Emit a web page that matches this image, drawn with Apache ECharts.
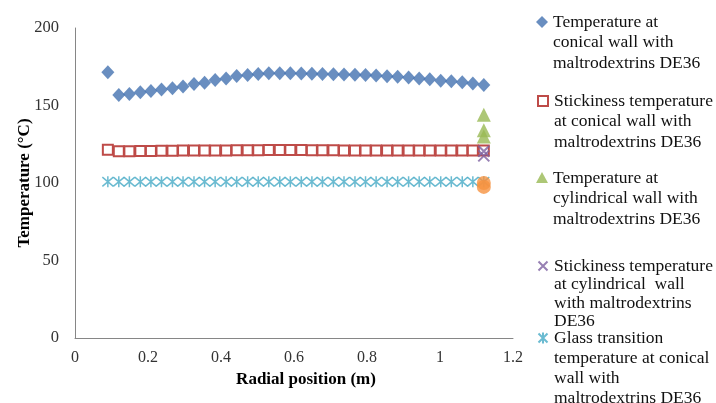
<!DOCTYPE html>
<html>
<head>
<meta charset="utf-8">
<script src="https://cdn.jsdelivr.net/npm/echarts@6/dist/echarts.min.js"></script>
<style>
  html, body { margin: 0; padding: 0; background: #ffffff; }
  #chart { width: 716px; height: 403px; }
</style>
</head>
<body>
<div id="chart"></div>
<script>
// ---- Data ----
const radialPositions = [0.090, 0.120, 0.149, 0.179, 0.208, 0.237, 0.267, 0.296, 0.326, 0.355,
  0.384, 0.414, 0.443, 0.473, 0.502, 0.531, 0.561, 0.590, 0.620, 0.649,
  0.678, 0.708, 0.737, 0.767, 0.796, 0.825, 0.855, 0.884, 0.914, 0.943,
  0.972, 1.002, 1.031, 1.061, 1.090, 1.120];

const tempConical = [171.4, 156.8, 157.5, 158.5, 159.3, 160.4, 161.2, 162.2, 163.9, 164.7,
  166.5, 167.5, 169.0, 169.7, 170.3, 170.8, 170.8, 170.8, 170.7, 170.5,
  170.4, 170.2, 170.0, 169.8, 169.7, 169.3, 168.9, 168.6, 168.0, 167.4,
  166.9, 166.0, 165.6, 165.0, 164.2, 163.2];

const stickConical = [121.5, 120.5, 120.5, 120.7, 120.7, 120.8, 120.8, 120.9, 121.0, 121.0,
  121.0, 121.0, 121.2, 121.2, 121.2, 121.3, 121.3, 121.3, 121.3, 121.2,
  121.2, 121.2, 121.0, 121.0, 121.0, 121.0, 121.0, 121.0, 121.0, 121.0,
  121.0, 121.0, 121.0, 121.0, 121.0, 121.0];

const glassConical = [100.8, 100.8, 100.8, 100.8, 100.8, 100.8, 100.8, 100.8, 100.8, 100.8,
  100.8, 100.8, 100.8, 100.8, 100.8, 100.8, 100.8, 100.8, 100.8, 100.8,
  100.8, 100.8, 100.8, 100.8, 100.8, 100.8, 100.8, 100.8, 100.8, 100.8,
  100.8, 100.8, 100.8, 100.8, 100.8, 100.8];

const cylPositions = [1.12, 1.12, 1.12];
const tempCylindrical = [144.0, 134.0, 130.0];
const stickCylPositions = [1.12, 1.12];
const stickCylindrical = [120.5, 117.5];
const glassCylPositions = [1.12, 1.12];
const glassCylindrical = [100.0, 97.5];

const seriesNames = [
  'Temperature at conical wall with maltrodextrins DE36',
  'Stickiness temperature at conical wall with maltrodextrins DE36',
  'Temperature at cylindrical wall with maltrodextrins DE36',
  'Stickiness temperature at cylindrical wall with maltrodextrins DE36',
  'Glass transition temperature at conical wall with maltrodextrins DE36',
  'Glass transition temperature at cylindrical wall with maltrodextrins DE36'
];
const legendLines = [
  ['Temperature at', 'conical wall with', 'maltrodextrins DE36'],
  ['Stickiness temperature', 'at conical wall with', 'maltrodextrins DE36'],
  ['Temperature at', 'cylindrical wall with', 'maltrodextrins DE36'],
  ['Stickiness temperature', 'at cylindrical  wall', 'with maltrodextrins', 'DE36'],
  ['Glass transition', 'temperature at conical', 'wall with', 'maltrodextrins DE36']
];
const xTicks = { min: 0, max: 1.2, interval: 0.2 };
const yTicks = { min: 0, max: 200, interval: 50 };

// ---- Styling ----
const serif = '"Liberation Serif", "Times New Roman", serif';
const colors = ['#4472b0', '#be4b48', '#98b954', '#7d60a0', '#46aac5', '#f69240'];
const xPath = 'path://M0,0 L10,10 M10,0 L0,10';
const starPath = 'path://M0,0 L10,10 M10,0 L0,10 M5,-1 L5,11';

function pairs(xs, ys) { return xs.map((x, i) => [x, ys[i]]); }

const legendLineHeights = [20.5, 20.5, 20.5, 18.5, 20];
const legendFirstLineY = [22, 100, 178, 265, 337];
const IW = 12;

// legend icon shapes, drawn in the top line box of a tall (n-line) icon area
function iconShape(kind, c) {
  switch (kind) {
    case 'diamond': return `M6,${c - 6} L12,${c} L6,${c + 6} L0,${c} Z`;
    case 'square': return `M1,${c - 5} L11,${c - 5} L11,${c + 5} L1,${c + 5} Z`;
    case 'triangle': return `M6,${c - 6} L12,${c + 5} L0,${c + 5} Z`;
    case 'x': return `M1.5,${c - 4.5} L10.5,${c + 4.5} M10.5,${c - 4.5} L1.5,${c + 4.5}`;
    case 'star': return `M1.5,${c - 4.5} L10.5,${c + 4.5} M10.5,${c - 4.5} L1.5,${c + 4.5} M6,${c - 5.5} L6,${c + 5.5}`;
  }
}
const legendKinds = ['diamond', 'square', 'triangle', 'x', 'star'];

const legends = legendLines.map((lines, i) => {
  const n = lines.length;
  const LH = legendLineHeights[i];
  const H = n * LH;
  const c = LH / 2;
  const path = 'path://M0,0 L0,0 M' + IW + ',' + H + ' L' + IW + ',' + H + ' ' + iconShape(legendKinds[i], c);
  return {
    data: [{ name: seriesNames[i], icon: path }],
    orient: 'vertical',
    left: 536,
    top: legendFirstLineY[i] - LH / 2,
    padding: 0,
    itemWidth: IW,
    itemHeight: H,
    symbolKeepAspect: false,
    selectedMode: false,
    formatter: () => lines.join('\n'),
    textStyle: {
      fontFamily: serif,
      fontSize: 17.5,
      color: '#111111',
      lineHeight: LH
    }
  };
});

const chart = echarts.init(document.getElementById('chart'), null, { renderer: 'canvas' });

const option = {
  animation: false,
  backgroundColor: '#ffffff',
  grid: { left: 75, top: 28, width: 438, height: 310 },
  legend: legends,
  xAxis: {
    type: 'value',
    min: xTicks.min, max: xTicks.max, interval: xTicks.interval,
    name: 'Radial position (m)',
    nameLocation: 'middle',
    nameGap: 33,
    nameMoveOverlap: false,
    nameTextStyle: { fontFamily: serif, fontSize: 17, fontWeight: 'bold', color: '#000', padding: [0, 0, 0, 24] },
    axisLine: { show: true, lineStyle: { color: '#868686', width: 1 } },
    axisTick: { show: false },
    splitLine: { show: false },
    axisLabel: { fontFamily: serif, fontSize: 16, color: '#333', margin: 12,
      formatter: v => String(Math.round(v * 10) / 10) }
  },
  yAxis: {
    type: 'value',
    min: yTicks.min, max: yTicks.max, interval: yTicks.interval,
    name: 'Temperature (°C)',
    nameLocation: 'middle',
    nameGap: 42,
    nameMoveOverlap: false,
    nameTextStyle: { fontFamily: serif, fontSize: 17, fontWeight: 'bold', color: '#000' },
    axisLine: { show: true, lineStyle: { color: '#868686', width: 1 } },
    axisTick: { show: false },
    splitLine: { show: false },
    axisLabel: { fontFamily: serif, fontSize: 16.5, color: '#333', margin: 16 }
  },
  series: [
    {
      name: seriesNames[0], type: 'scatter', symbol: 'diamond', symbolSize: [13, 14],
      itemStyle: { color: colors[0] },
      data: pairs(radialPositions, tempConical)
    },
    {
      name: seriesNames[1], type: 'scatter', symbol: 'rect', symbolSize: 10,
      itemStyle: { color: '#ffffff', borderColor: colors[1], borderWidth: 2, opacity: 1 },
      data: pairs(radialPositions, stickConical)
    },
    {
      name: seriesNames[4], type: 'scatter', symbol: starPath, symbolSize: 11,
      itemStyle: { color: 'rgba(0,0,0,0)', borderColor: colors[4], borderWidth: 1.5 },
      data: pairs(radialPositions, glassConical)
    },
    {
      name: seriesNames[2], type: 'scatter', symbol: 'triangle', symbolSize: 14,
      itemStyle: { color: colors[2] },
      data: pairs(cylPositions, tempCylindrical)
    },
    {
      name: seriesNames[3], type: 'scatter', symbol: xPath, symbolSize: 11,
      itemStyle: { color: 'rgba(0,0,0,0)', borderColor: colors[3], borderWidth: 2 },
      data: pairs(stickCylPositions, stickCylindrical)
    },
    {
      name: seriesNames[5], type: 'scatter', symbol: 'circle', symbolSize: 14,
      itemStyle: { color: colors[5] },
      data: pairs(glassCylPositions, glassCylindrical)
    }
  ]
};

chart.setOption(option);
</script>
</body>
</html>
